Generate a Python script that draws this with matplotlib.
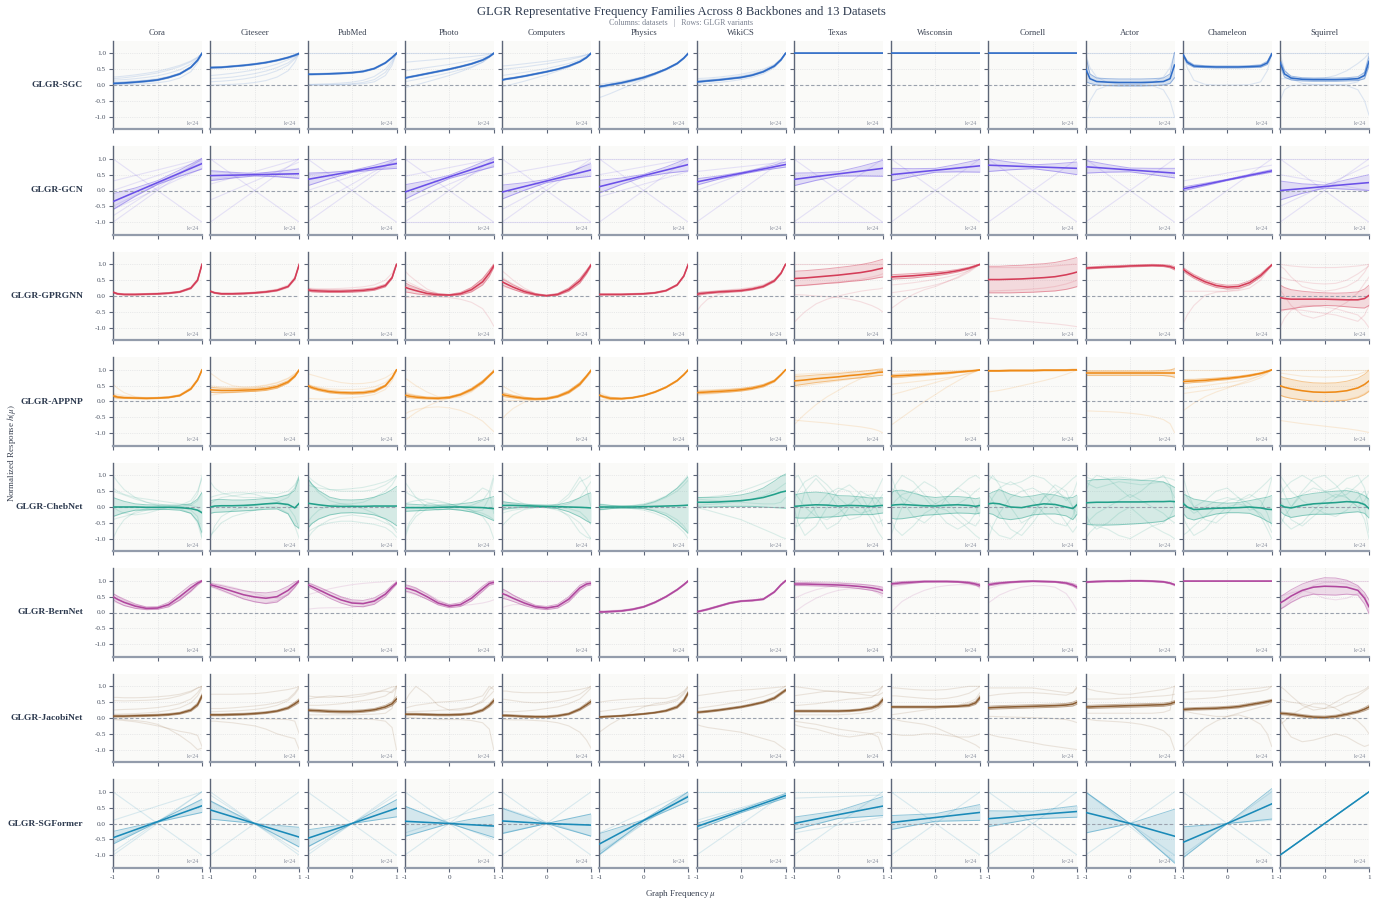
import numpy as np
import matplotlib
matplotlib.use('Agg')
import matplotlib.pyplot as plt

plt.rcParams['font.family'] = ['Liberation Serif', 'DejaVu Serif']
plt.rcParams['mathtext.fontset'] = 'stix'
plt.rcParams['axes.unicode_minus'] = False

DATASETS = ['Cora', 'Citeseer', 'PubMed', 'Photo', 'Computers', 'Physics', 'WikiCS',
            'Texas', 'Wisconsin', 'Cornell', 'Actor', 'Chameleon', 'Squirrel']
BACKBONES = ['GLGR-SGC', 'GLGR-GCN', 'GLGR-GPRGNN', 'GLGR-APPNP', 'GLGR-ChebNet',
             'GLGR-BernNet', 'GLGR-JacobiNet', 'GLGR-SGFormer']
COLORS = ['#2f6cc7', '#6a50e8', '#d43d58', '#ee8a17', '#22a08a', '#b0479e', '#8a5d33', '#1a8ab8']

MU = [-1, -0.9, -0.75, -0.5, -0.25, 0, 0.25, 0.5, 0.75, 0.9, 1]
MU5 = [-1, -0.5, 0, 0.5, 1]
MU3 = [-1, 0, 1]
MU2 = [-1, 1]
ONE = [1.0, 1.0, 1.0, 1.0, 1.0, 1.0, 1.0, 1.0, 1.0, 1.0, 1.0]
ZERO = [0.0, 0.0, 0.0, 0.0, 0.0, 0.0, 0.0, 0.0, 0.0, 0.0, 0.0]
SMALL = [0.02, 0.02, 0.02, 0.02, 0.02, 0.02, 0.02, 0.02, 0.02, 0.02, 0.02]

# ---------------- GLGR-SGC ----------------
SGC_MEAN = [
    [0.05, 0.055, 0.065, 0.09, 0.12, 0.16, 0.24, 0.35, 0.56, 0.78, 1.0],
    [0.55, 0.555, 0.56, 0.59, 0.62, 0.66, 0.71, 0.78, 0.87, 0.94, 1.0],
    [0.34, 0.34, 0.345, 0.355, 0.37, 0.39, 0.43, 0.52, 0.7, 0.87, 1.0],
    [0.22, 0.25, 0.29, 0.36, 0.43, 0.5, 0.58, 0.67, 0.79, 0.9, 1.0],
    [0.16, 0.19, 0.22, 0.28, 0.35, 0.42, 0.5, 0.6, 0.74, 0.87, 1.0],
    [-0.05, -0.03, 0.01, 0.07, 0.15, 0.24, 0.36, 0.5, 0.68, 0.85, 1.0],
    [0.1, 0.11, 0.13, 0.16, 0.2, 0.24, 0.31, 0.42, 0.6, 0.8, 1.0],
    ONE, ONE, ONE,
    [0.53, 0.2, 0.11, 0.09, 0.08, 0.08, 0.08, 0.09, 0.11, 0.2, 0.63],
    [0.98, 0.72, 0.6, 0.58, 0.57, 0.57, 0.57, 0.58, 0.6, 0.7, 0.98],
    [0.72, 0.35, 0.22, 0.18, 0.17, 0.17, 0.17, 0.18, 0.2, 0.3, 0.75],
]
SGC_SD = [
    SMALL, SMALL, SMALL, SMALL, SMALL, SMALL, SMALL, ZERO, ZERO, ZERO,
    [0.42, 0.15, 0.11, 0.11, 0.11, 0.11, 0.11, 0.11, 0.11, 0.15, 0.4],
    [0.03, 0.05, 0.04, 0.03, 0.03, 0.03, 0.03, 0.03, 0.04, 0.05, 0.03],
    [0.12, 0.1, 0.06, 0.05, 0.05, 0.05, 0.05, 0.05, 0.06, 0.1, 0.15],
]
SGC_RUNS = [
    [[0.25, 0.26, 0.28, 0.32, 0.37, 0.43, 0.52, 0.62, 0.76, 0.88, 1.0],
     [0.15, 0.16, 0.17, 0.2, 0.24, 0.29, 0.37, 0.48, 0.66, 0.83, 1.0],
     [0.0, 0.0, 0.01, 0.02, 0.04, 0.07, 0.12, 0.22, 0.42, 0.7, 1.0],
     [0.2, 0.21, 0.23, 0.27, 0.32, 0.38, 0.47, 0.58, 0.73, 0.86, 1.0],
     [0.1, 0.1, 0.11, 0.13, 0.16, 0.2, 0.27, 0.38, 0.57, 0.79, 1.0]],
    [ONE,
     [0.3, 0.31, 0.33, 0.37, 0.42, 0.48, 0.56, 0.66, 0.8, 0.9, 1.0],
     [0.1, 0.11, 0.12, 0.15, 0.19, 0.25, 0.33, 0.45, 0.63, 0.82, 1.0],
     [0.0, 0.0, 0.01, 0.02, 0.04, 0.08, 0.14, 0.25, 0.45, 0.72, 1.0],
     [0.2, 0.21, 0.22, 0.25, 0.3, 0.36, 0.44, 0.55, 0.7, 0.86, 1.0]],
    [ONE,
     [0.0, 0.0, 0.0, 0.01, 0.02, 0.04, 0.08, 0.17, 0.4, 0.7, 1.0],
     [0.02, 0.02, 0.03, 0.04, 0.06, 0.09, 0.15, 0.27, 0.5, 0.77, 1.0],
     [0.0, 0.0, 0.0, 0.0, 0.01, 0.02, 0.04, 0.1, 0.3, 0.62, 1.0]],
    [ONE,
     [0.72, 0.73, 0.75, 0.78, 0.81, 0.84, 0.87, 0.9, 0.94, 0.97, 1.0],
     [0.45, 0.47, 0.5, 0.55, 0.6, 0.65, 0.71, 0.78, 0.86, 0.93, 1.0],
     [-0.08, -0.05, 0.0, 0.1, 0.2, 0.3, 0.42, 0.55, 0.72, 0.88, 1.0],
     [0.1, 0.13, 0.17, 0.24, 0.31, 0.39, 0.48, 0.58, 0.72, 0.87, 1.0]],
    [[0.6, 0.61, 0.63, 0.67, 0.71, 0.75, 0.8, 0.85, 0.91, 0.96, 1.0],
     [0.5, 0.51, 0.53, 0.57, 0.62, 0.67, 0.73, 0.8, 0.88, 0.95, 1.0],
     [-0.05, -0.02, 0.03, 0.12, 0.22, 0.32, 0.44, 0.56, 0.72, 0.87, 1.0],
     [0.3, 0.32, 0.35, 0.4, 0.46, 0.52, 0.6, 0.68, 0.8, 0.91, 1.0]],
    [[-0.4, -0.35, -0.27, -0.12, 0.03, 0.18, 0.33, 0.5, 0.69, 0.86, 1.0],
     [0.02, 0.04, 0.07, 0.12, 0.19, 0.27, 0.38, 0.51, 0.68, 0.85, 1.0],
     [-0.1, -0.08, -0.05, 0.02, 0.1, 0.2, 0.32, 0.47, 0.66, 0.84, 1.0]],
    [[0.2, 0.21, 0.22, 0.25, 0.29, 0.34, 0.41, 0.5, 0.65, 0.83, 1.0],
     [0.02, 0.03, 0.05, 0.08, 0.12, 0.17, 0.24, 0.35, 0.55, 0.77, 1.0],
     [0.15, 0.16, 0.17, 0.2, 0.24, 0.29, 0.36, 0.46, 0.63, 0.82, 1.0]],
    [], [], [],
    [ONE,
     [-1.0, -1.0, -1.0, -1.0, -1.0, -1.0, -1.0, -1.0, -1.0, -1.0, -1.0],
     [1.0, 0.55, 0.25, 0.08, 0.03, 0.02, 0.03, 0.08, 0.25, 0.55, 1.0],
     [-1.0, -0.5, -0.15, -0.02, 0.0, 0.0, 0.0, -0.02, -0.15, -0.5, -1.0]],
    [ONE,
     [1.0, 0.55, 0.15, 0.02, 0.0, 0.0, 0.0, 0.01, 0.1, 0.45, 1.0]],
    [ONE,
     [1.0, 0.5, 0.2, 0.05, 0.02, 0.01, 0.01, 0.02, 0.1, 0.4, 1.0],
     [0.2, 0.2, 0.2, 0.2, 0.2, 0.22, 0.3, 0.45, 0.68, 0.85, 1.0],
     [-0.5, -0.15, -0.02, 0.0, 0.0, 0.0, 0.0, -0.02, -0.15, -0.5, -0.95]],
]

# ---------------- GLGR-GCN (linear responses) ----------------
GCN_MEAN = [
    [-0.35, -0.05, 0.25, 0.55, 0.85],
    [0.47, 0.485, 0.5, 0.515, 0.53],
    [0.35, 0.475, 0.6, 0.725, 0.85],
    [-0.05, 0.19, 0.43, 0.66, 0.9],
    [-0.05, 0.125, 0.3, 0.475, 0.65],
    [0.12, 0.295, 0.47, 0.645, 0.82],
    [0.27, 0.41, 0.545, 0.68, 0.82],
    [0.35, 0.44, 0.525, 0.61, 0.7],
    [0.5, 0.57, 0.64, 0.71, 0.78],
    [0.8, 0.775, 0.75, 0.725, 0.7],
    [0.75, 0.7, 0.65, 0.6, 0.55],
    [0.05, 0.19, 0.335, 0.48, 0.62],
    [0.0, 0.06, 0.125, 0.19, 0.25],
]
GCN_SD = [
    [0.25, 0.13, 0.06, 0.1, 0.17],
    [0.16, 0.09, 0.04, 0.08, 0.15],
    [0.2, 0.1, 0.03, 0.07, 0.15],
    [0.23, 0.12, 0.05, 0.09, 0.15],
    [0.22, 0.12, 0.05, 0.1, 0.2],
    [0.2, 0.1, 0.04, 0.1, 0.2],
    [0.1, 0.05, 0.03, 0.04, 0.08],
    [0.2, 0.12, 0.07, 0.15, 0.25],
    [0.2, 0.12, 0.06, 0.12, 0.2],
    [0.2, 0.12, 0.06, 0.12, 0.2],
    [0.2, 0.12, 0.06, 0.1, 0.15],
    [0.06, 0.04, 0.02, 0.03, 0.04],
    [0.3, 0.15, 0.05, 0.15, 0.25],
]
GCN_RUNS = [
    [[-1, 1], [1, -1], [0.3, 1.0], [-0.8, 1.0], [-0.5, 0.9], [0.0, 0.95], [-0.6, 0.7]],
    [[1, 1], [1, -1], [-1, 1], [0.2, 1.0], [-0.3, 0.9], [0.6, 0.4], [0.35, 0.7]],
    [[1, -1], [-1, 1], [1, 1], [-0.6, 1.0], [0.0, 0.9], [0.5, 0.75]],
    [[1, -1], [-1, -1], [-1, 1], [0.45, 1.0], [-0.4, 0.8], [1, 1]],
    [[1, -1], [-1, 1], [0.5, 1.0], [-0.6, 0.9], [-1, -1]],
    [[1, 1], [-1, 1], [1, -1], [0.5, 1.0], [-0.2, 0.6]],
    [[0.0, 1.0], [0.6, 0.9], [-1, 1], [1, 1]],
    [[1, -1], [-1, 1], [1, 1], [-1, -1]],
    [[1, -1], [-1, 1], [1, 1]],
    [[1, -1], [-1, 1], [1, 1]],
    [[1, -1], [-1, 1], [1, 1]],
    [[-1, 1], [1, 1], [0.3, 0.8]],
    [[1, -1], [-1, 1], [0.5, 0.0], [-0.5, 0.8], [1, 1]],
]

# ---------------- GLGR-GPRGNN ----------------
GPR_MEAN = [
    [0.12, 0.07, 0.05, 0.05, 0.06, 0.07, 0.09, 0.13, 0.25, 0.5, 1.0],
    [0.15, 0.1, 0.07, 0.07, 0.08, 0.1, 0.13, 0.18, 0.3, 0.55, 1.0],
    [0.2, 0.17, 0.16, 0.15, 0.15, 0.16, 0.18, 0.22, 0.33, 0.58, 1.0],
    [0.28, 0.23, 0.17, 0.08, 0.04, 0.03, 0.07, 0.2, 0.45, 0.72, 0.95],
    [0.45, 0.38, 0.28, 0.14, 0.05, 0.01, 0.05, 0.2, 0.48, 0.76, 0.98],
    [0.05, 0.05, 0.05, 0.05, 0.06, 0.07, 0.1, 0.17, 0.35, 0.63, 1.0],
    [0.05, 0.08, 0.1, 0.13, 0.15, 0.17, 0.22, 0.3, 0.48, 0.72, 1.0],
    [0.55, 0.56, 0.57, 0.6, 0.63, 0.66, 0.7, 0.74, 0.8, 0.85, 0.88],
    [0.6, 0.61, 0.62, 0.64, 0.67, 0.7, 0.74, 0.8, 0.88, 0.95, 1.0],
    [0.52, 0.52, 0.52, 0.53, 0.54, 0.56, 0.58, 0.61, 0.67, 0.72, 0.76],
    [0.88, 0.89, 0.9, 0.92, 0.93, 0.95, 0.96, 0.97, 0.96, 0.93, 0.88],
    [0.85, 0.75, 0.62, 0.45, 0.33, 0.28, 0.3, 0.42, 0.65, 0.85, 0.98],
    [-0.05, -0.08, -0.1, -0.1, -0.1, -0.1, -0.11, -0.12, -0.12, -0.08, 0.02],
]
GPR_SD = [
    SMALL, SMALL,
    [0.04, 0.04, 0.04, 0.04, 0.04, 0.04, 0.04, 0.04, 0.04, 0.03, 0.01],
    [0.15, 0.12, 0.1, 0.05, 0.03, 0.02, 0.04, 0.07, 0.1, 0.1, 0.05],
    [0.1, 0.09, 0.07, 0.05, 0.03, 0.02, 0.03, 0.05, 0.07, 0.06, 0.03],
    SMALL,
    [0.05, 0.04, 0.03, 0.03, 0.03, 0.03, 0.03, 0.03, 0.03, 0.02, 0.01],
    [0.23, 0.23, 0.23, 0.23, 0.23, 0.24, 0.24, 0.25, 0.26, 0.27, 0.28],
    [0.07, 0.07, 0.07, 0.07, 0.06, 0.06, 0.05, 0.04, 0.03, 0.02, 0.01],
    [0.42, 0.42, 0.42, 0.43, 0.43, 0.44, 0.44, 0.45, 0.46, 0.46, 0.46],
    [0.03, 0.03, 0.03, 0.03, 0.03, 0.03, 0.03, 0.03, 0.03, 0.04, 0.05],
    [0.06, 0.06, 0.06, 0.06, 0.06, 0.06, 0.06, 0.06, 0.05, 0.04, 0.02],
    [0.4, 0.35, 0.3, 0.25, 0.22, 0.2, 0.2, 0.22, 0.25, 0.3, 0.32],
]
GPR_RUNS = [
    [[0.1, 0.06, 0.05, 0.05, 0.06, 0.07, 0.1, 0.15, 0.28, 0.55, 1.0],
     [0.14, 0.08, 0.05, 0.04, 0.05, 0.06, 0.08, 0.11, 0.22, 0.45, 1.0]],
    [[0.12, 0.1, 0.09, 0.09, 0.1, 0.12, 0.16, 0.22, 0.35, 0.6, 1.0],
     [0.17, 0.1, 0.06, 0.06, 0.07, 0.08, 0.1, 0.15, 0.26, 0.5, 1.0]],
    [[0.25, 0.24, 0.23, 0.23, 0.24, 0.26, 0.29, 0.35, 0.5, 0.72, 1.0],
     [0.18, 0.15, 0.13, 0.12, 0.12, 0.13, 0.15, 0.19, 0.3, 0.55, 1.0]],
    [[0.8, 0.65, 0.48, 0.22, 0.08, 0.03, 0.07, 0.25, 0.55, 0.8, 1.0],
     [0.35, 0.3, 0.24, 0.14, 0.07, 0.04, 0.05, 0.15, 0.4, 0.68, 0.9],
     [-0.05, -0.04, -0.03, -0.02, -0.03, -0.05, -0.1, -0.2, -0.4, -0.7, -0.95],
     [0.5, 0.42, 0.32, 0.15, 0.05, 0.02, 0.08, 0.25, 0.52, 0.78, 0.98]],
    [[0.8, 0.68, 0.5, 0.25, 0.08, 0.0, 0.06, 0.25, 0.55, 0.8, 1.0],
     [0.3, 0.27, 0.2, 0.1, 0.03, 0.0, 0.04, 0.16, 0.42, 0.7, 0.92],
     [0.6, 0.5, 0.38, 0.18, 0.06, 0.01, 0.05, 0.22, 0.5, 0.78, 0.98]],
    [[0.04, 0.04, 0.05, 0.05, 0.06, 0.08, 0.11, 0.18, 0.37, 0.65, 1.0]],
    [[-0.5, -0.3, -0.1, 0.05, 0.12, 0.16, 0.22, 0.32, 0.5, 0.75, 1.0],
     [0.1, 0.12, 0.14, 0.17, 0.2, 0.23, 0.28, 0.36, 0.52, 0.75, 1.0]],
    [ONE,
     [-0.85, -0.7, -0.5, -0.25, -0.1, 0.0, 0.08, 0.15, 0.2, 0.22, 0.25],
     [0.05, 0.04, 0.03, 0.0, -0.02, -0.05, -0.1, -0.18, -0.3, -0.4, -0.5],
     [0.3, 0.31, 0.33, 0.36, 0.4, 0.44, 0.48, 0.53, 0.6, 0.65, 0.7]],
    [ONE,
     [-0.4, -0.3, -0.15, 0.05, 0.2, 0.3, 0.45, 0.6, 0.8, 0.92, 1.0],
     [0.1, 0.12, 0.15, 0.2, 0.27, 0.35, 0.45, 0.57, 0.75, 0.9, 1.0],
     [0.35, 0.36, 0.38, 0.42, 0.47, 0.53, 0.6, 0.68, 0.8, 0.92, 1.0]],
    [[-0.7, -0.71, -0.73, -0.76, -0.79, -0.82, -0.85, -0.88, -0.92, -0.95, -0.97],
     [0.9, 0.9, 0.9, 0.9, 0.9, 0.9, 0.92, 0.95, 0.98, 1.0, 1.0],
     [0.15, 0.16, 0.17, 0.18, 0.2, 0.22, 0.25, 0.3, 0.38, 0.45, 0.5]],
    [[0.85, 0.86, 0.88, 0.9, 0.92, 0.94, 0.95, 0.96, 0.95, 0.9, 0.82]],
    [[-0.9, -0.6, -0.3, 0.02, 0.12, 0.15, 0.2, 0.35, 0.6, 0.85, 1.0],
     [0.15, 0.15, 0.15, 0.15, 0.15, 0.15, 0.17, 0.25, 0.5, 0.8, 1.0]],
    [[0.95, 0.85, 0.6, 0.3, 0.2, 0.15, 0.2, 0.3, 0.5, 0.75, 1.0],
     [-1.0, -0.7, -0.45, -0.3, -0.3, -0.35, -0.4, -0.5, -0.6, -0.8, -1.0],
     [0.6, 0.55, 0.5, 0.45, 0.4, 0.38, 0.4, 0.5, 0.7, 0.85, 0.95],
     [-0.5, -0.45, -0.42, -0.45, -0.5, -0.55, -0.6, -0.7, -0.8, -0.6, -0.3],
     [0.2, 0.0, -0.3, -0.6, -0.7, -0.6, -0.4, -0.2, 0.1, 0.4, 0.6],
     [1.0, 0.98, 0.95, 0.92, 0.9, 0.9, 0.9, 0.92, 0.95, 0.98, 1.0]],
]

# ---------------- GLGR-APPNP ----------------
APPNP_MEAN = [
    [0.18, 0.14, 0.12, 0.11, 0.1, 0.11, 0.13, 0.19, 0.4, 0.68, 1.0],
    [0.37, 0.36, 0.35, 0.35, 0.36, 0.37, 0.4, 0.47, 0.62, 0.8, 1.0],
    [0.5, 0.44, 0.38, 0.31, 0.28, 0.27, 0.28, 0.33, 0.5, 0.75, 1.0],
    [0.2, 0.17, 0.14, 0.11, 0.1, 0.13, 0.22, 0.38, 0.62, 0.82, 0.95],
    [0.22, 0.19, 0.15, 0.1, 0.08, 0.09, 0.16, 0.3, 0.55, 0.8, 0.98],
    [0.2, 0.15, 0.1, 0.09, 0.12, 0.19, 0.3, 0.45, 0.66, 0.85, 1.0],
    [0.28, 0.29, 0.3, 0.32, 0.34, 0.37, 0.42, 0.5, 0.65, 0.85, 1.0],
    [0.65, 0.66, 0.68, 0.72, 0.75, 0.78, 0.82, 0.85, 0.89, 0.92, 0.93],
    [0.8, 0.81, 0.82, 0.84, 0.86, 0.88, 0.9, 0.93, 0.96, 0.98, 1.0],
    [0.97, 0.97, 0.97, 0.98, 0.98, 0.98, 0.99, 0.99, 0.99, 1.0, 1.0],
    [0.9, 0.9, 0.9, 0.9, 0.9, 0.9, 0.9, 0.9, 0.9, 0.9, 0.9],
    [0.63, 0.64, 0.65, 0.67, 0.7, 0.73, 0.77, 0.82, 0.89, 0.95, 1.0],
    [0.5, 0.45, 0.4, 0.34, 0.3, 0.29, 0.3, 0.34, 0.43, 0.54, 0.65],
]
APPNP_SD = [
    [0.04, 0.03, 0.02, 0.02, 0.02, 0.02, 0.02, 0.02, 0.02, 0.02, 0.01],
    [0.08, 0.08, 0.07, 0.06, 0.05, 0.05, 0.05, 0.05, 0.04, 0.03, 0.01],
    [0.04, 0.04, 0.04, 0.04, 0.04, 0.04, 0.04, 0.04, 0.03, 0.02, 0.01],
    [0.05, 0.05, 0.04, 0.03, 0.03, 0.03, 0.03, 0.04, 0.04, 0.03, 0.02],
    [0.05, 0.05, 0.04, 0.03, 0.03, 0.03, 0.03, 0.04, 0.04, 0.03, 0.02],
    [0.03, 0.03, 0.03, 0.02, 0.02, 0.02, 0.02, 0.02, 0.02, 0.02, 0.01],
    [0.04, 0.04, 0.04, 0.04, 0.04, 0.04, 0.04, 0.04, 0.03, 0.02, 0.01],
    [0.15, 0.14, 0.13, 0.12, 0.11, 0.1, 0.1, 0.1, 0.1, 0.1, 0.1],
    [0.05, 0.05, 0.05, 0.04, 0.04, 0.03, 0.03, 0.02, 0.02, 0.01, 0.01],
    SMALL,
    [0.07, 0.07, 0.07, 0.07, 0.07, 0.07, 0.07, 0.07, 0.08, 0.1, 0.13],
    [0.06, 0.06, 0.05, 0.05, 0.04, 0.04, 0.03, 0.03, 0.02, 0.02, 0.01],
    [0.3, 0.3, 0.3, 0.29, 0.29, 0.29, 0.29, 0.3, 0.31, 0.32, 0.33],
]
APPNP_RUNS = [
    [[0.55, 0.42, 0.28, 0.15, 0.11, 0.1, 0.12, 0.18, 0.38, 0.66, 1.0],
     [0.25, 0.22, 0.18, 0.14, 0.13, 0.13, 0.15, 0.22, 0.45, 0.72, 1.0],
     [0.1, 0.09, 0.09, 0.09, 0.09, 0.1, 0.12, 0.18, 0.38, 0.65, 0.95]],
    [[0.9, 0.8, 0.65, 0.5, 0.45, 0.45, 0.5, 0.58, 0.72, 0.86, 1.0],
     [0.2, 0.22, 0.25, 0.28, 0.3, 0.33, 0.38, 0.46, 0.62, 0.8, 1.0],
     [0.5, 0.48, 0.46, 0.45, 0.45, 0.47, 0.52, 0.6, 0.74, 0.88, 1.0],
     [0.3, 0.3, 0.3, 0.3, 0.31, 0.33, 0.36, 0.43, 0.58, 0.78, 0.98]],
    [[0.88, 0.84, 0.78, 0.68, 0.6, 0.56, 0.57, 0.62, 0.75, 0.88, 1.0],
     [0.1, 0.09, 0.08, 0.08, 0.1, 0.12, 0.16, 0.22, 0.38, 0.65, 0.95],
     [0.55, 0.5, 0.45, 0.4, 0.38, 0.38, 0.4, 0.46, 0.6, 0.8, 1.0]],
    [[0.75, 0.65, 0.5, 0.3, 0.15, 0.1, 0.14, 0.3, 0.58, 0.82, 1.0],
     [-0.6, -0.5, -0.35, -0.15, 0.0, 0.1, 0.22, 0.4, 0.65, 0.85, 1.0],
     [-0.4, -0.32, -0.25, -0.19, -0.17, -0.2, -0.28, -0.42, -0.62, -0.82, -0.95],
     [0.3, 0.25, 0.2, 0.14, 0.12, 0.14, 0.22, 0.37, 0.6, 0.8, 0.95]],
    [[0.5, 0.42, 0.3, 0.15, 0.08, 0.08, 0.15, 0.32, 0.6, 0.82, 1.0],
     [-0.55, -0.4, -0.22, -0.02, 0.08, 0.12, 0.2, 0.35, 0.6, 0.82, 0.98],
     [0.05, 0.04, 0.03, 0.04, 0.06, 0.1, 0.18, 0.32, 0.55, 0.75, 0.9],
     [0.3, 0.26, 0.2, 0.13, 0.09, 0.09, 0.14, 0.28, 0.52, 0.78, 0.96]],
    [[0.05, 0.05, 0.06, 0.08, 0.12, 0.19, 0.3, 0.45, 0.66, 0.85, 1.0],
     [0.3, 0.22, 0.14, 0.1, 0.12, 0.18, 0.29, 0.44, 0.65, 0.84, 1.0]],
    [[0.2, 0.21, 0.23, 0.26, 0.3, 0.34, 0.4, 0.5, 0.66, 0.86, 1.0],
     [0.35, 0.36, 0.37, 0.38, 0.4, 0.42, 0.46, 0.53, 0.66, 0.84, 1.0]],
    [[-0.75, -0.6, -0.4, -0.1, 0.15, 0.35, 0.55, 0.72, 0.88, 0.96, 1.0],
     [-0.58, -0.6, -0.62, -0.65, -0.68, -0.72, -0.76, -0.8, -0.86, -0.92, -0.99],
     [0.45, 0.47, 0.5, 0.55, 0.6, 0.65, 0.7, 0.77, 0.85, 0.92, 0.97],
     [0.85, 0.86, 0.87, 0.89, 0.9, 0.92, 0.94, 0.96, 0.98, 0.99, 1.0]],
    [[-0.75, -0.65, -0.5, -0.25, 0.0, 0.22, 0.45, 0.65, 0.85, 0.95, 1.0],
     [0.55, 0.56, 0.58, 0.62, 0.66, 0.7, 0.75, 0.8, 0.88, 0.95, 1.0],
     [0.2, 0.25, 0.3, 0.4, 0.5, 0.6, 0.7, 0.8, 0.9, 0.96, 1.0],
     [0.95, 0.95, 0.95, 0.96, 0.96, 0.97, 0.97, 0.98, 0.99, 1.0, 1.0]],
    [[0.3, 0.32, 0.35, 0.42, 0.5, 0.58, 0.66, 0.75, 0.86, 0.94, 1.0],
     [0.95, 0.95, 0.96, 0.96, 0.97, 0.97, 0.98, 0.98, 0.99, 1.0, 1.0]],
    [[-0.3, -0.3, -0.31, -0.32, -0.34, -0.37, -0.41, -0.47, -0.57, -0.7, -0.98],
     [0.95, 0.95, 0.95, 0.95, 0.95, 0.95, 0.95, 0.95, 0.96, 0.98, 1.05],
     [0.82, 0.82, 0.82, 0.82, 0.82, 0.82, 0.82, 0.82, 0.82, 0.8, 0.75]],
    [[-0.3, -0.2, -0.05, 0.15, 0.3, 0.42, 0.55, 0.68, 0.82, 0.93, 1.0],
     [0.25, 0.27, 0.3, 0.35, 0.4, 0.46, 0.53, 0.62, 0.75, 0.88, 1.0],
     [0.4, 0.42, 0.45, 0.5, 0.55, 0.6, 0.65, 0.72, 0.82, 0.92, 1.0],
     ONE],
    [ONE,
     [-0.6, -0.62, -0.65, -0.7, -0.74, -0.78, -0.82, -0.86, -0.91, -0.95, -0.98],
     [0.9, 0.88, 0.85, 0.8, 0.78, 0.77, 0.78, 0.8, 0.86, 0.93, 1.0],
     [0.2, 0.15, 0.1, 0.05, 0.02, 0.0, 0.02, 0.06, 0.15, 0.25, 0.35]],
]

# ---------------- GLGR-ChebNet ----------------
CHEB_MEAN = [
    [0.0, 0.0, 0.0, 0.0, -0.01, -0.01, -0.01, -0.02, -0.05, -0.1, -0.18],
    [0.0, 0.03, 0.04, 0.04, 0.05, 0.07, 0.1, 0.12, 0.08, -0.03, 0.12],
    [0.12, 0.1, 0.07, 0.03, 0.02, 0.02, 0.02, 0.03, 0.03, 0.03, 0.03],
    [-0.02, -0.02, -0.02, -0.02, -0.01, 0.0, 0.0, -0.01, -0.02, -0.04, -0.05],
    [0.05, 0.05, 0.05, 0.04, 0.03, 0.02, 0.01, 0.0, -0.01, -0.02, -0.03],
    [0.0, 0.0, 0.0, 0.0, 0.0, 0.01, 0.02, 0.03, 0.04, 0.05, 0.06],
    [0.15, 0.15, 0.15, 0.16, 0.18, 0.2, 0.24, 0.3, 0.4, 0.47, 0.5],
    [0.02, 0.03, 0.05, 0.07, 0.06, 0.03, 0.05, 0.04, 0.02, 0.04, 0.05],
    [0.05, 0.07, 0.08, 0.06, 0.04, 0.03, 0.06, 0.07, 0.05, 0.02, 0.05],
    [0.1, 0.12, 0.1, 0.0, -0.02, 0.05, 0.1, 0.08, 0.0, -0.05, 0.08],
    [0.13, 0.14, 0.15, 0.15, 0.16, 0.16, 0.16, 0.17, 0.17, 0.18, 0.17],
    [0.12, 0.0, -0.08, -0.06, -0.04, -0.03, -0.02, 0.0, -0.03, -0.07, -0.08],
    [0.07, 0.0, -0.03, 0.05, 0.1, 0.12, 0.14, 0.17, 0.15, 0.08, -0.05],
]
CHEB_SD = [
    [0.3, 0.25, 0.18, 0.1, 0.08, 0.07, 0.07, 0.08, 0.15, 0.35, 0.64],
    [0.2, 0.2, 0.2, 0.18, 0.17, 0.17, 0.17, 0.18, 0.3, 0.55, 0.8],
    [0.8, 0.62, 0.45, 0.28, 0.21, 0.2, 0.22, 0.28, 0.4, 0.52, 0.62],
    [0.12, 0.11, 0.1, 0.08, 0.07, 0.07, 0.1, 0.15, 0.25, 0.33, 0.38],
    [0.12, 0.1, 0.08, 0.05, 0.04, 0.04, 0.06, 0.15, 0.3, 0.42, 0.48],
    [0.08, 0.07, 0.05, 0.04, 0.04, 0.06, 0.15, 0.3, 0.55, 0.75, 0.9],
    [0.15, 0.15, 0.15, 0.15, 0.16, 0.18, 0.22, 0.3, 0.42, 0.5, 0.54],
    [0.35, 0.38, 0.4, 0.4, 0.38, 0.33, 0.3, 0.28, 0.26, 0.25, 0.24],
    [0.4, 0.45, 0.45, 0.38, 0.3, 0.27, 0.27, 0.26, 0.25, 0.24, 0.24],
    [0.3, 0.35, 0.45, 0.4, 0.33, 0.3, 0.32, 0.3, 0.28, 0.35, 0.3],
    [0.68, 0.7, 0.72, 0.72, 0.72, 0.7, 0.68, 0.66, 0.62, 0.52, 0.45],
    [0.3, 0.35, 0.33, 0.25, 0.18, 0.15, 0.16, 0.2, 0.3, 0.38, 0.44],
    [0.2, 0.25, 0.3, 0.32, 0.33, 0.35, 0.36, 0.35, 0.3, 0.28, 0.3],
]
CHEB_RUNS = [
    [[1.0, 0.8, 0.55, 0.3, 0.15, 0.05, 0.0, 0.0, 0.1, 0.4, 1.0],
     [-1.0, -0.7, -0.4, -0.15, -0.05, 0.0, 0.0, -0.05, -0.2, -0.5, -1.0],
     [0.5, 0.45, 0.38, 0.25, 0.15, 0.1, 0.05, 0.0, -0.1, -0.3, -0.95],
     [0.0, -0.1, -0.2, -0.25, -0.2, -0.1, 0.0, 0.05, 0.2, 0.5, 0.9],
     [0.6, 0.5, 0.4, 0.3, 0.25, 0.2, 0.15, 0.1, 0.05, 0.0, -0.2],
     [-0.4, -0.35, -0.3, -0.2, -0.1, -0.05, -0.02, 0.0, 0.05, 0.2, 0.45]],
    [[-1.0, -0.6, -0.3, -0.1, 0.0, 0.05, 0.1, 0.15, 0.3, 0.6, 1.0],
     [0.8, 0.6, 0.45, 0.35, 0.3, 0.3, 0.3, 0.3, 0.4, 0.6, 1.0],
     [-0.9, -0.75, -0.5, -0.3, -0.2, -0.1, 0.0, 0.0, -0.2, -0.6, -1.0],
     [0.3, 0.35, 0.4, 0.45, 0.45, 0.4, 0.3, 0.2, 0.0, -0.3, -0.7],
     [0.1, 0.2, 0.3, 0.35, 0.4, 0.45, 0.45, 0.4, 0.5, 0.7, 0.95]],
    [[1.0, 0.85, 0.7, 0.55, 0.5, 0.5, 0.5, 0.55, 0.7, 0.85, 1.0],
     [-1.0, -0.8, -0.6, -0.4, -0.3, -0.25, -0.3, -0.35, -0.5, -0.6, -0.7],
     [0.9, 0.7, 0.45, 0.2, 0.1, 0.1, 0.15, 0.3, 0.5, 0.7, 0.95],
     [-0.5, -0.3, -0.1, 0.05, 0.1, 0.05, -0.05, -0.2, -0.4, -0.6, -0.8],
     [0.7, 0.65, 0.6, 0.55, 0.55, 0.58, 0.62, 0.7, 0.8, 0.9, 0.98],
     [-0.8, -0.7, -0.6, -0.5, -0.45, -0.45, -0.5, -0.55, -0.65, -0.8, -0.95]],
    [[-1.0, -0.6, -0.3, -0.05, 0.05, 0.05, 0.0, -0.1, -0.3, -0.6, -1.0],
     [0.8, 0.6, 0.3, 0.0, -0.1, -0.05, 0.1, 0.3, 0.6, 0.5, -0.2],
     [-0.9, -0.5, -0.2, 0.1, 0.15, 0.1, 0.0, 0.05, 0.2, 0.5, 1.0],
     [0.1, 0.15, 0.2, 0.25, 0.2, 0.1, 0.0, -0.1, -0.2, -0.3, -0.4],
     [0.5, 0.4, 0.3, 0.15, 0.05, -0.05, -0.1, -0.15, -0.1, 0.3, 0.9]],
    [[0.2, 0.15, 0.1, 0.05, 0.02, 0.0, 0.05, 0.3, 0.8, 0.9, 1.0],
     [-0.2, -0.15, -0.1, -0.05, -0.02, 0.0, -0.05, -0.3, -0.8, -0.95, -1.0],
     [0.15, 0.1, 0.05, 0.0, 0.0, 0.0, 0.1, 0.4, 0.95, 0.6, 0.0],
     [-0.1, -0.08, -0.05, 0.0, 0.0, -0.02, -0.1, -0.25, -0.5, -0.8, -1.0],
     [0.5, 0.4, 0.25, 0.1, 0.02, 0.0, 0.02, 0.1, 0.3, 0.6, 0.8],
     [-0.6, -0.45, -0.25, -0.08, -0.02, 0.0, 0.0, -0.05, -0.15, -0.35, -0.55]],
    [[-0.1, -0.08, -0.05, 0.0, 0.05, 0.1, 0.2, 0.35, 0.6, 0.85, 1.0],
     [0.1, 0.08, 0.05, 0.0, -0.05, -0.1, -0.2, -0.35, -0.6, -0.8, -1.0],
     [0.05, 0.03, 0.02, 0.0, 0.0, 0.05, 0.15, 0.3, 0.5, 0.7, 0.85],
     [-0.05, -0.03, -0.02, 0.0, 0.0, -0.03, -0.1, -0.2, -0.4, -0.6, -0.8]],
    [[0.0, -0.05, -0.1, -0.2, -0.3, -0.4, -0.55, -0.7, -0.85, -0.95, -1.0],
     [0.3, 0.3, 0.32, 0.35, 0.4, 0.5, 0.62, 0.75, 0.9, 0.97, 1.0],
     [0.05, 0.06, 0.08, 0.1, 0.13, 0.18, 0.25, 0.35, 0.5, 0.65, 0.75],
     [0.25, 0.24, 0.22, 0.2, 0.18, 0.15, 0.12, 0.1, 0.1, 0.15, 0.3]],
    [[-1.0, -0.3, 0.5, 0.9, 0.5, 0.0, -0.4, -0.3, 0.2, 0.6, 0.9],
     [0.9, 1.0, 0.6, -0.2, -0.7, -0.5, 0.0, 0.5, 0.3, -0.2, -0.6],
     [0.0, -0.5, -0.9, -0.6, 0.0, 0.5, 0.7, 0.4, -0.2, -0.5, -0.4],
     [0.5, 0.3, 0.0, -0.3, -0.4, -0.2, 0.1, 0.3, 0.4, 0.2, 0.0],
     [-0.6, -0.6, -0.4, 0.0, 0.4, 0.6, 0.5, 0.1, -0.4, -0.8, -1.0],
     [0.2, 0.5, 0.8, 1.0, 0.7, 0.3, 0.0, -0.2, -0.1, 0.2, 0.4]],
    [[1.0, 0.6, 0.2, -0.3, -0.5, -0.2, 0.3, 0.6, 0.4, 0.0, -0.3],
     [-0.9, -0.5, 0.0, 0.5, 0.8, 0.6, 0.2, -0.2, -0.5, -0.6, -0.4],
     [0.3, 0.7, 1.0, 0.8, 0.4, 0.1, 0.0, 0.1, 0.3, 0.5, 0.6],
     [-0.4, -0.7, -0.9, -0.6, -0.2, 0.0, -0.1, -0.4, -0.7, -0.9, -1.0],
     [0.6, 0.5, 0.3, 0.1, 0.0, 0.1, 0.3, 0.6, 0.9, 1.0, 0.9],
     [0.0, 0.2, 0.4, 0.5, 0.3, -0.1, -0.5, -0.7, -0.5, -0.2, 0.2]],
    [[0.8, 1.0, 0.7, 0.0, -0.5, -0.3, 0.3, 0.7, 0.5, 0.0, -0.5],
     [-1.0, -0.6, -0.2, 0.3, 0.5, 0.6, 0.4, 0.0, -0.5, -0.8, -0.6],
     [0.4, 0.2, -0.2, -0.7, -0.9, -0.5, 0.0, 0.4, 0.7, 0.9, 1.0],
     [0.0, 0.3, 0.6, 0.8, 0.6, 0.2, -0.2, -0.5, -0.6, -0.3, 0.2],
     [-0.5, -0.7, -0.9, -1.0, -0.7, -0.2, 0.3, 0.5, 0.3, 0.0, -0.2],
     [1.0, 0.9, 0.8, 0.7, 0.8, 1.0, 0.9, 0.6, 0.2, 0.4, 0.8]],
    [[0.95, 0.9, 0.85, 0.9, 0.95, 0.9, 0.85, 0.9, 0.95, 0.9, 0.85],
     [-1.0, -0.8, -0.6, -0.7, -0.9, -1.0, -0.8, -0.6, -0.5, -0.3, 0.0],
     [0.5, 0.8, 1.0, 0.9, 0.6, 0.3, 0.5, 0.8, 1.0, 0.7, 0.0],
     [-0.2, -0.5, -0.7, -0.5, -0.2, 0.0, -0.3, -0.6, -0.8, -0.9, -1.0],
     [0.8, 0.7, 0.6, 0.7, 0.8, 0.75, 0.7, 0.75, 0.8, 0.6, 0.3],
     [-0.6, -0.4, -0.2, 0.0, 0.2, 0.4, 0.2, 0.0, -0.2, -0.4, -0.5]],
    [[1.0, 0.5, 0.0, -0.4, -0.5, -0.2, 0.2, 0.4, 0.2, -0.2, -0.6],
     [-0.9, -0.8, -0.6, -0.3, 0.0, 0.2, 0.3, 0.1, -0.3, -0.7, -1.0],
     [0.6, 0.3, 0.0, 0.2, 0.5, 0.6, 0.3, -0.1, 0.0, 0.4, 0.9],
     [-0.3, -0.6, -0.9, -0.7, -0.3, 0.0, 0.1, 0.0, -0.2, -0.5, -0.8],
     [0.2, 0.0, -0.2, 0.0, 0.2, 0.3, 0.2, 0.3, 0.6, 0.8, 0.95]],
    [[0.8, 0.4, 0.0, 0.5, 0.9, 1.0, 0.7, 0.3, 0.0, 0.2, 0.5],
     [-0.6, -0.3, 0.0, 0.4, 0.6, 0.5, 0.3, 0.4, 0.7, 0.9, 1.0],
     [0.2, 0.0, -0.4, -0.6, -0.3, 0.0, 0.3, 0.6, 0.5, 0.0, -0.8],
     [1.0, 0.8, 0.5, 0.2, 0.0, -0.2, -0.3, -0.1, 0.3, 0.5, 0.2],
     [-0.3, -0.5, -0.7, -0.5, -0.1, 0.2, 0.4, 0.3, 0.0, -0.4, -1.0],
     [0.4, 0.6, 0.8, 1.0, 0.8, 0.5, 0.6, 0.9, 1.0, 0.6, 0.0]],
]

# ---------------- GLGR-BernNet ----------------
BERN_MEAN = [
    [0.5, 0.42, 0.32, 0.2, 0.13, 0.14, 0.25, 0.5, 0.78, 0.93, 1.0],
    [0.88, 0.84, 0.78, 0.67, 0.56, 0.49, 0.45, 0.5, 0.7, 0.88, 1.0],
    [0.88, 0.82, 0.72, 0.55, 0.4, 0.3, 0.28, 0.36, 0.58, 0.8, 0.93],
    [0.78, 0.75, 0.68, 0.5, 0.3, 0.2, 0.25, 0.45, 0.75, 0.92, 0.95],
    [0.6, 0.55, 0.45, 0.3, 0.18, 0.14, 0.2, 0.42, 0.78, 0.9, 0.92],
    [0.02, 0.02, 0.03, 0.05, 0.1, 0.18, 0.32, 0.5, 0.72, 0.88, 1.0],
    [0.02, 0.05, 0.1, 0.2, 0.3, 0.36, 0.38, 0.42, 0.65, 0.88, 1.0],
    [0.9, 0.9, 0.9, 0.89, 0.88, 0.87, 0.85, 0.82, 0.78, 0.74, 0.7],
    [0.9, 0.92, 0.94, 0.96, 0.98, 0.98, 0.98, 0.97, 0.94, 0.9, 0.86],
    [0.88, 0.9, 0.93, 0.96, 0.98, 0.99, 0.98, 0.97, 0.93, 0.87, 0.8],
    [0.96, 0.97, 0.98, 0.99, 0.99, 1.0, 1.0, 0.99, 0.97, 0.93, 0.88],
    ONE,
    [0.3, 0.38, 0.52, 0.7, 0.8, 0.83, 0.82, 0.8, 0.7, 0.45, 0.18],
]
BERN_SD = [
    [0.1, 0.1, 0.1, 0.07, 0.04, 0.04, 0.07, 0.1, 0.1, 0.05, 0.02],
    [0.05, 0.05, 0.07, 0.1, 0.13, 0.15, 0.17, 0.17, 0.13, 0.08, 0.02],
    [0.05, 0.07, 0.08, 0.1, 0.1, 0.1, 0.1, 0.1, 0.08, 0.06, 0.04],
    [0.1, 0.1, 0.1, 0.08, 0.06, 0.05, 0.06, 0.08, 0.08, 0.06, 0.05],
    [0.15, 0.13, 0.1, 0.08, 0.05, 0.05, 0.06, 0.08, 0.08, 0.06, 0.05],
    SMALL, SMALL,
    [0.05, 0.05, 0.05, 0.05, 0.05, 0.06, 0.06, 0.07, 0.08, 0.09, 0.1],
    [0.04, 0.04, 0.04, 0.03, 0.02, 0.02, 0.02, 0.02, 0.03, 0.04, 0.05],
    [0.04, 0.04, 0.03, 0.02, 0.02, 0.02, 0.02, 0.02, 0.03, 0.04, 0.05],
    SMALL, ZERO,
    [0.2, 0.2, 0.2, 0.2, 0.22, 0.27, 0.27, 0.22, 0.15, 0.18, 0.22],
]
BERN_RUNS = [
    [[0.35, 0.3, 0.22, 0.14, 0.12, 0.15, 0.28, 0.45, 0.7, 0.9, 1.0],
     [0.6, 0.5, 0.38, 0.22, 0.14, 0.14, 0.22, 0.4, 0.65, 0.85, 0.98],
     [0.45, 0.4, 0.33, 0.24, 0.18, 0.17, 0.22, 0.38, 0.68, 0.9, 1.0]],
    [ONE,
     [0.95, 0.92, 0.88, 0.8, 0.7, 0.6, 0.5, 0.45, 0.55, 0.78, 1.0],
     [0.82, 0.76, 0.68, 0.55, 0.42, 0.33, 0.3, 0.38, 0.6, 0.85, 1.0]],
    [[0.55, 0.6, 0.65, 0.75, 0.82, 0.88, 0.92, 0.95, 0.97, 0.99, 1.0],
     [0.1, 0.12, 0.14, 0.15, 0.15, 0.16, 0.2, 0.3, 0.55, 0.8, 0.95],
     [0.95, 0.9, 0.82, 0.65, 0.48, 0.35, 0.3, 0.38, 0.6, 0.82, 0.95]],
    [ONE,
     [0.85, 0.82, 0.75, 0.6, 0.4, 0.25, 0.22, 0.25, 0.3, 0.35, 0.4],
     [0.65, 0.62, 0.56, 0.42, 0.27, 0.19, 0.24, 0.45, 0.75, 0.92, 0.96]],
    [ONE,
     [0.15, 0.2, 0.25, 0.25, 0.2, 0.15, 0.2, 0.4, 0.75, 0.9, 0.95],
     [0.75, 0.68, 0.55, 0.35, 0.2, 0.15, 0.2, 0.45, 0.78, 0.92, 0.93]],
    [[0.05, 0.05, 0.06, 0.08, 0.12, 0.2, 0.33, 0.5, 0.72, 0.88, 1.0]],
    [[0.04, 0.07, 0.12, 0.22, 0.32, 0.37, 0.39, 0.44, 0.66, 0.88, 1.0]],
    [[0.0, 0.1, 0.25, 0.45, 0.6, 0.7, 0.75, 0.75, 0.7, 0.6, 0.5],
     [0.45, 0.5, 0.6, 0.72, 0.8, 0.85, 0.85, 0.82, 0.75, 0.65, 0.55],
     [1.0, 1.0, 0.99, 0.98, 0.97, 0.95, 0.93, 0.9, 0.85, 0.8, 0.75]],
    [[0.0, 0.15, 0.35, 0.55, 0.7, 0.8, 0.85, 0.88, 0.88, 0.85, 0.8],
     [0.8, 0.83, 0.87, 0.92, 0.96, 0.98, 0.99, 1.0, 0.98, 0.9, 0.75]],
    [[0.3, 0.4, 0.55, 0.7, 0.8, 0.85, 0.85, 0.8, 0.6, 0.3, 0.05],
     [0.75, 0.8, 0.86, 0.92, 0.96, 0.98, 0.98, 0.97, 0.95, 0.92, 0.88]],
    [[0.93, 0.95, 0.97, 0.98, 0.99, 1.0, 1.0, 0.99, 0.96, 0.9, 0.84]],
    [],
    [ONE,
     [0.5, 0.55, 0.62, 0.7, 0.6, 0.45, 0.4, 0.45, 0.6, 0.55, 0.2],
     [0.1, 0.2, 0.4, 0.65, 0.85, 0.95, 0.95, 0.9, 0.8, 0.5, 0.0]],
]

# ---------------- GLGR-JacobiNet ----------------
JAC_MEAN = [
    [0.06, 0.06, 0.06, 0.07, 0.08, 0.09, 0.11, 0.15, 0.25, 0.42, 0.7],
    [0.1, 0.1, 0.1, 0.11, 0.12, 0.14, 0.17, 0.22, 0.32, 0.45, 0.55],
    [0.25, 0.24, 0.23, 0.21, 0.2, 0.2, 0.22, 0.26, 0.35, 0.45, 0.6],
    [0.12, 0.12, 0.12, 0.11, 0.1, 0.1, 0.11, 0.14, 0.25, 0.4, 0.55],
    [0.08, 0.08, 0.07, 0.05, 0.04, 0.04, 0.07, 0.13, 0.28, 0.42, 0.52],
    [0.03, 0.04, 0.05, 0.07, 0.1, 0.13, 0.17, 0.23, 0.35, 0.55, 0.8],
    [0.18, 0.19, 0.21, 0.25, 0.3, 0.35, 0.42, 0.5, 0.63, 0.78, 0.88],
    [0.22, 0.22, 0.22, 0.22, 0.22, 0.22, 0.23, 0.26, 0.32, 0.42, 0.58],
    [0.35, 0.35, 0.35, 0.35, 0.35, 0.35, 0.36, 0.37, 0.4, 0.48, 0.65],
    [0.32, 0.33, 0.34, 0.35, 0.36, 0.37, 0.38, 0.39, 0.41, 0.44, 0.5],
    [0.35, 0.35, 0.36, 0.37, 0.38, 0.39, 0.4, 0.41, 0.42, 0.45, 0.5],
    [0.27, 0.28, 0.29, 0.3, 0.31, 0.33, 0.36, 0.42, 0.48, 0.52, 0.55],
    [0.15, 0.14, 0.12, 0.07, 0.03, 0.02, 0.05, 0.12, 0.2, 0.28, 0.35],
]
JAC_SD = [
    [0.03, 0.03, 0.03, 0.03, 0.03, 0.03, 0.03, 0.03, 0.04, 0.05, 0.06],
    [0.03, 0.03, 0.03, 0.03, 0.03, 0.03, 0.03, 0.03, 0.04, 0.05, 0.06],
    [0.04, 0.04, 0.04, 0.04, 0.04, 0.04, 0.04, 0.04, 0.05, 0.06, 0.07],
    [0.03, 0.03, 0.03, 0.03, 0.03, 0.03, 0.03, 0.03, 0.04, 0.05, 0.06],
    [0.03, 0.03, 0.03, 0.03, 0.03, 0.03, 0.03, 0.03, 0.04, 0.05, 0.06],
    [0.02, 0.02, 0.02, 0.02, 0.02, 0.02, 0.02, 0.03, 0.04, 0.05, 0.05],
    [0.03, 0.03, 0.03, 0.03, 0.03, 0.03, 0.03, 0.03, 0.04, 0.04, 0.04],
    [0.03, 0.03, 0.03, 0.03, 0.03, 0.03, 0.03, 0.03, 0.04, 0.05, 0.06],
    [0.03, 0.03, 0.03, 0.03, 0.03, 0.03, 0.03, 0.03, 0.04, 0.05, 0.06],
    [0.05, 0.05, 0.05, 0.05, 0.05, 0.05, 0.05, 0.05, 0.05, 0.06, 0.06],
    [0.05, 0.05, 0.05, 0.05, 0.05, 0.05, 0.05, 0.05, 0.05, 0.05, 0.05],
    [0.04, 0.04, 0.04, 0.04, 0.04, 0.04, 0.04, 0.04, 0.04, 0.04, 0.04],
    [0.04, 0.04, 0.04, 0.04, 0.04, 0.04, 0.04, 0.04, 0.04, 0.05, 0.06],
]
JAC_RUNS = [
    [[0.65, 0.65, 0.64, 0.64, 0.65, 0.67, 0.7, 0.75, 0.85, 0.95, 1.0],
     [0.25, 0.26, 0.27, 0.28, 0.3, 0.33, 0.38, 0.45, 0.6, 0.8, 1.0],
     [-0.05, -0.06, -0.08, -0.12, -0.18, -0.25, -0.33, -0.42, -0.48, -0.55, -0.9],
     [-0.02, -0.03, -0.05, -0.08, -0.12, -0.2, -0.35, -0.55, -0.8, -1.0, -0.95],
     [0.12, 0.12, 0.13, 0.14, 0.16, 0.19, 0.24, 0.32, 0.48, 0.7, 0.95],
     [0.55, 0.55, 0.54, 0.55, 0.56, 0.58, 0.62, 0.7, 0.82, 0.95, 1.0]],
    [[0.75, 0.75, 0.75, 0.75, 0.76, 0.77, 0.8, 0.85, 0.9, 0.95, 1.0],
     [0.3, 0.3, 0.3, 0.32, 0.35, 0.38, 0.42, 0.48, 0.6, 0.8, 1.0],
     [-0.1, -0.1, -0.12, -0.15, -0.2, -0.25, -0.35, -0.5, -0.6, -0.65, -1.0],
     [0.0, -0.02, -0.03, -0.03, -0.03, -0.03, -0.03, -0.04, -0.05, -0.1, -0.5],
     [0.2, 0.2, 0.21, 0.22, 0.24, 0.27, 0.32, 0.4, 0.55, 0.75, 0.95]],
    [[0.6, 0.62, 0.66, 0.7, 0.68, 0.65, 0.7, 0.8, 0.9, 0.98, 1.0],
     [0.1, 0.1, 0.1, 0.1, 0.1, 0.1, 0.11, 0.12, 0.15, 0.3, 1.0],
     [0.0, -0.02, -0.03, -0.03, -0.03, -0.03, -0.04, -0.05, -0.1, -0.3, -1.0],
     [0.7, 0.68, 0.66, 0.65, 0.68, 0.72, 0.76, 0.82, 0.85, 0.8, 0.95],
     [0.4, 0.4, 0.4, 0.42, 0.45, 0.5, 0.55, 0.6, 0.7, 0.85, 1.0]],
    [[0.5, 0.75, 1.0, 0.75, 0.4, 0.25, 0.25, 0.35, 0.55, 0.9, 1.0],
     [0.3, 0.35, 0.4, 0.45, 0.5, 0.52, 0.55, 0.6, 0.7, 1.0, 0.9],
     [0.05, 0.02, 0.0, -0.02, -0.05, -0.05, -0.05, -0.08, -0.15, -0.35, -1.0],
     [0.2, 0.2, 0.21, 0.22, 0.24, 0.26, 0.3, 0.36, 0.5, 0.7, 0.85]],
    [[0.85, 0.85, 0.82, 0.8, 0.8, 0.8, 0.82, 0.85, 0.9, 0.95, 1.0],
     [0.6, 0.58, 0.55, 0.5, 0.48, 0.5, 0.55, 0.62, 0.75, 0.9, 1.0],
     [-0.05, -0.05, -0.06, -0.06, -0.08, -0.1, -0.15, -0.25, -0.45, -0.7, -0.95],
     [0.2, 0.2, 0.2, 0.22, 0.25, 0.3, 0.35, 0.45, 0.6, 0.8, 0.95]],
    [[-0.45, -0.35, -0.2, 0.0, 0.2, 0.35, 0.45, 0.5, 0.6, 0.8, 1.0],
     [0.5, 0.52, 0.55, 0.58, 0.6, 0.62, 0.62, 0.62, 0.7, 0.85, 1.0],
     [0.2, 0.22, 0.25, 0.3, 0.35, 0.38, 0.4, 0.45, 0.55, 0.75, 0.95]],
    [[0.7, 0.72, 0.75, 0.8, 0.85, 0.88, 0.9, 0.93, 0.96, 0.98, 1.0],
     [-0.2, -0.25, -0.3, -0.35, -0.4, -0.45, -0.55, -0.65, -0.75, -0.9, -1.0],
     [0.3, 0.32, 0.35, 0.4, 0.46, 0.52, 0.6, 0.68, 0.8, 0.92, 1.0]],
    [[1.0, 0.98, 0.95, 0.9, 0.85, 0.82, 0.8, 0.8, 0.82, 0.9, 1.0],
     [0.7, 0.72, 0.75, 0.8, 0.85, 0.85, 0.8, 0.75, 0.7, 0.72, 0.8],
     [-0.1, -0.12, -0.15, -0.2, -0.28, -0.35, -0.4, -0.45, -0.5, -0.6, -1.0],
     [-0.2, -0.25, -0.3, -0.35, -0.45, -0.55, -0.6, -0.55, -0.5, -0.45, -0.5],
     [0.4, 0.4, 0.42, 0.45, 0.5, 0.55, 0.6, 0.62, 0.65, 0.8, 1.0],
     [0.1, 0.1, 0.1, 0.1, 0.1, 0.1, 0.12, 0.15, 0.2, 0.3, 0.45]],
    [[0.95, 0.95, 0.93, 0.9, 0.88, 0.88, 0.9, 0.95, 1.0, 1.0, 1.0],
     [-0.5, -0.52, -0.55, -0.55, -0.5, -0.5, -0.55, -0.6, -0.6, -0.55, -0.5],
     [0.1, 0.12, 0.15, 0.2, 0.25, 0.3, 0.35, 0.4, 0.5, 0.6, 0.8],
     [-0.05, -0.05, -0.1, -0.15, -0.2, -0.3, -0.45, -0.6, -0.75, -0.85, -0.95],
     [0.7, 0.7, 0.68, 0.65, 0.62, 0.6, 0.62, 0.68, 0.78, 0.9, 1.0]],
    [[-0.5, -0.55, -0.6, -0.65, -0.72, -0.78, -0.85, -0.9, -0.95, -0.98, -1.0],
     [0.95, 0.95, 0.95, 0.95, 0.95, 0.95, 0.9, 0.85, 0.8, 0.8, 1.0],
     [0.05, 0.05, 0.04, 0.03, 0.02, 0.01, 0.0, -0.02, -0.05, -0.1, -0.15],
     [0.7, 0.72, 0.75, 0.78, 0.8, 0.8, 0.78, 0.75, 0.72, 0.8, 0.95]],
    [[0.0, -0.05, -0.08, -0.1, -0.12, -0.15, -0.2, -0.28, -0.4, -0.6, -1.0],
     [0.95, 0.9, 0.85, 0.8, 0.75, 0.75, 0.8, 0.85, 0.9, 0.95, 1.0],
     [0.15, 0.15, 0.15, 0.15, 0.15, 0.15, 0.15, 0.15, 0.18, 0.25, 1.0],
     [0.6, 0.6, 0.6, 0.6, 0.62, 0.64, 0.66, 0.68, 0.7, 0.72, 0.75]],
    [[-0.95, -0.8, -0.6, -0.3, -0.1, 0.05, 0.15, 0.25, 0.35, 0.4, 0.5],
     [0.8, 0.82, 0.85, 0.85, 0.85, 0.88, 0.9, 0.92, 0.95, 0.98, 1.0],
     [0.2, 0.2, 0.15, 0.1, 0.05, 0.05, 0.1, 0.0, -0.2, -0.5, -0.9],
     [0.6, 0.6, 0.6, 0.62, 0.65, 0.7, 0.75, 0.8, 0.85, 0.9, 1.0]],
    [[1.0, 0.9, 0.7, 0.4, 0.25, 0.3, 0.5, 0.7, 0.8, 0.9, 1.0],
     [0.0, -0.3, -0.6, -0.75, -0.7, -0.6, -0.5, -0.6, -0.8, -0.9, -0.85],
     [0.6, 0.55, 0.5, 0.45, 0.35, 0.3, 0.35, 0.5, 0.7, 0.85, 0.95],
     [-0.2, -0.1, 0.1, 0.3, 0.45, 0.45, 0.3, 0.1, -0.1, -0.3, -0.5]],
]

# ---------------- GLGR-SGFormer (linear responses) ----------------
SGF_MEAN = [
    [-0.45, 0.055, 0.56],
    [0.43, 0.0, -0.43],
    [-0.47, 0.0, 0.48],
    [0.07, 0.0, -0.08],
    [0.08, 0.0, -0.05],
    [-0.65, 0.1, 0.85],
    [-0.1, 0.39, 0.88],
    [0.0, 0.28, 0.55],
    [0.03, 0.19, 0.35],
    [0.15, 0.27, 0.38],
    [0.35, 0.0, -0.4],
    [-0.6, 0.0, 0.62],
    [-1.0, 0.0, 1.0],
]
SGF_SD = [
    [0.2, 0.01, 0.21],
    [0.29, 0.0, 0.31],
    [0.27, 0.0, 0.27],
    [0.48, 0.0, 0.36],
    [0.4, 0.0, 0.35],
    [0.33, 0.02, 0.15],
    [0.1, 0.05, 0.07],
    [0.2, 0.12, 0.3],
    [0.22, 0.12, 0.25],
    [0.25, 0.12, 0.18],
    [0.65, 0.0, 0.85],
    [0.49, 0.0, 0.48],
    [0.0, 0.0, 0.0],
]
SGF_RUNS = [
    [[-1, 1], [1, -1], [0.1, 1.0], [-0.9, 1.0], [-0.6, 0.75]],
    [[1, -1], [-1, 1], [0.7, -0.75], [0.9, -0.9]],
    [[-1, 1], [1, -1], [-0.75, 0.75], [-0.9, 0.9]],
    [[1, -1], [-1, 1], [-0.3, 0.6], [0.55, -0.5]],
    [[1, -1], [-1, 1], [0.5, -0.4], [-0.3, 0.3]],
    [[-1, 1], [-0.3, 1.0], [-0.9, 0.9]],
    [[1, 1], [-1, 0.95], [0.1, 0.9]],
    [[-1, 1], [1, 1], [0.8, 0.9], [-0.3, 0.2]],
    [[-1, 1], [1, -1], [1, 1]],
    [[-1, 1], [1, -1], [1, 1]],
    [[1, -1], [-1, 1], [1, -1.2]],
    [[1, -1], [-1, 1], [-0.1, 0.1]],
    [],
]

ROWS = [
    (SGC_MEAN, SGC_SD, SGC_RUNS, MU, MU),
    (GCN_MEAN, GCN_SD, GCN_RUNS, MU5, MU2),
    (GPR_MEAN, GPR_SD, GPR_RUNS, MU, MU),
    (APPNP_MEAN, APPNP_SD, APPNP_RUNS, MU, MU),
    (CHEB_MEAN, CHEB_SD, CHEB_RUNS, MU, MU),
    (BERN_MEAN, BERN_SD, BERN_RUNS, MU, MU),
    (JAC_MEAN, JAC_SD, JAC_RUNS, MU, MU),
    (SGF_MEAN, SGF_SD, SGF_RUNS, MU3, MU2),
]

YTICKS = [-1.0, -0.5, 0.0, 0.5, 1.0]
XTICKS = [-1, 0, 1]

W, H = 1379, 900
fig = plt.figure(figsize=(W / 100, H / 100), dpi=100)
fig.patch.set_facecolor('white')

LEFT0, PITCH_X, AW = 113, 97.25, 89
TOP0, PITCH_Y, AH = 40.7, 105.5, 88.6

for r, (means, sds, runs, grid, rgrid) in enumerate(ROWS):
    col = COLORS[r]
    for c in range(13):
        x0 = LEFT0 + c * PITCH_X
        y0 = TOP0 + r * PITCH_Y
        ax = fig.add_axes([x0 / W, 1 - (y0 + AH) / H, AW / W, AH / H])
        ax.set_facecolor('#fafaf8')
        ax.set_xlim(-1, 1)
        ax.set_ylim(-1.4, 1.4)
        ax.grid(True, ls=':', lw=0.5, color='#d9dadd')
        ax.set_axisbelow(True)
        for run in runs[c]:
            ax.plot(rgrid, run, color=col, alpha=0.15, lw=0.8, zorder=1)
        m = np.array(means[c], dtype=float)
        s = np.array(sds[c], dtype=float)
        ax.fill_between(grid, m - s, m + s, color=col, alpha=0.17, lw=0, zorder=2)
        ax.plot(grid, m - s, color=col, alpha=0.45, lw=0.7, zorder=2)
        ax.plot(grid, m + s, color=col, alpha=0.45, lw=0.7, zorder=2)
        ax.axhline(0, color='#9aa1ad', ls=(0, (3, 2)), lw=0.8, zorder=3)
        ax.plot(grid, m, color=col, lw=1.15, zorder=4)
        ax.text(0.965, 0.07, 'k=24', transform=ax.transAxes, ha='right', va='center',
                fontsize=4.3, color='#8c92a0')
        for sp in ('top', 'right'):
            ax.spines[sp].set_visible(False)
        ax.spines['left'].set_color('#5d6678')
        ax.spines['left'].set_linewidth(1.0)
        ax.spines['bottom'].set_color('#939cab')
        ax.spines['bottom'].set_linewidth(1.6)
        ax.set_yticks(YTICKS)
        ax.set_xticks(XTICKS)
        ax.tick_params(direction='out', length=3, width=0.8, color='#5d6678',
                       labelsize=5.2, labelcolor='#4a5262', pad=2)
        if c == 0:
            ax.set_yticklabels([f'{v:.1f}' for v in YTICKS])
        else:
            ax.set_yticklabels([])
        if r == len(ROWS) - 1:
            ax.set_xticklabels([str(v) for v in XTICKS])
        else:
            ax.set_xticklabels([])
        if r == 0:
            ax.set_title(DATASETS[c], fontsize=6.2, color='#3a4252', pad=4)
    fig.text(83 / W, 1 - (TOP0 + r * PITCH_Y + AH / 2) / H, BACKBONES[r],
             ha='right', va='center', fontsize=6.8, fontweight='bold', color='#2d3a4f')

fig.text(681 / W, 1 - 12 / H, 'GLGR Representative Frequency Families Across 8 Backbones and 13 Datasets',
         ha='center', va='center', fontsize=9.2, color='#2d3a4f')
fig.text(681 / W, 1 - 23 / H, 'Columns: datasets   |   Rows: GLGR variants',
         ha='center', va='center', fontsize=5.8, color='#7a8190')
fig.text(12 / W, 1 - 453 / H, r'Normalized Response $h(\mu)$', rotation=90,
         ha='center', va='center', fontsize=6.5, color='#3a4252')
fig.text(681 / W, 1 - 894 / H, r'Graph Frequency $\mu$',
         ha='center', va='center', fontsize=6.5, color='#3a4252')

fig.savefig('out.png', dpi=100, facecolor='white')
